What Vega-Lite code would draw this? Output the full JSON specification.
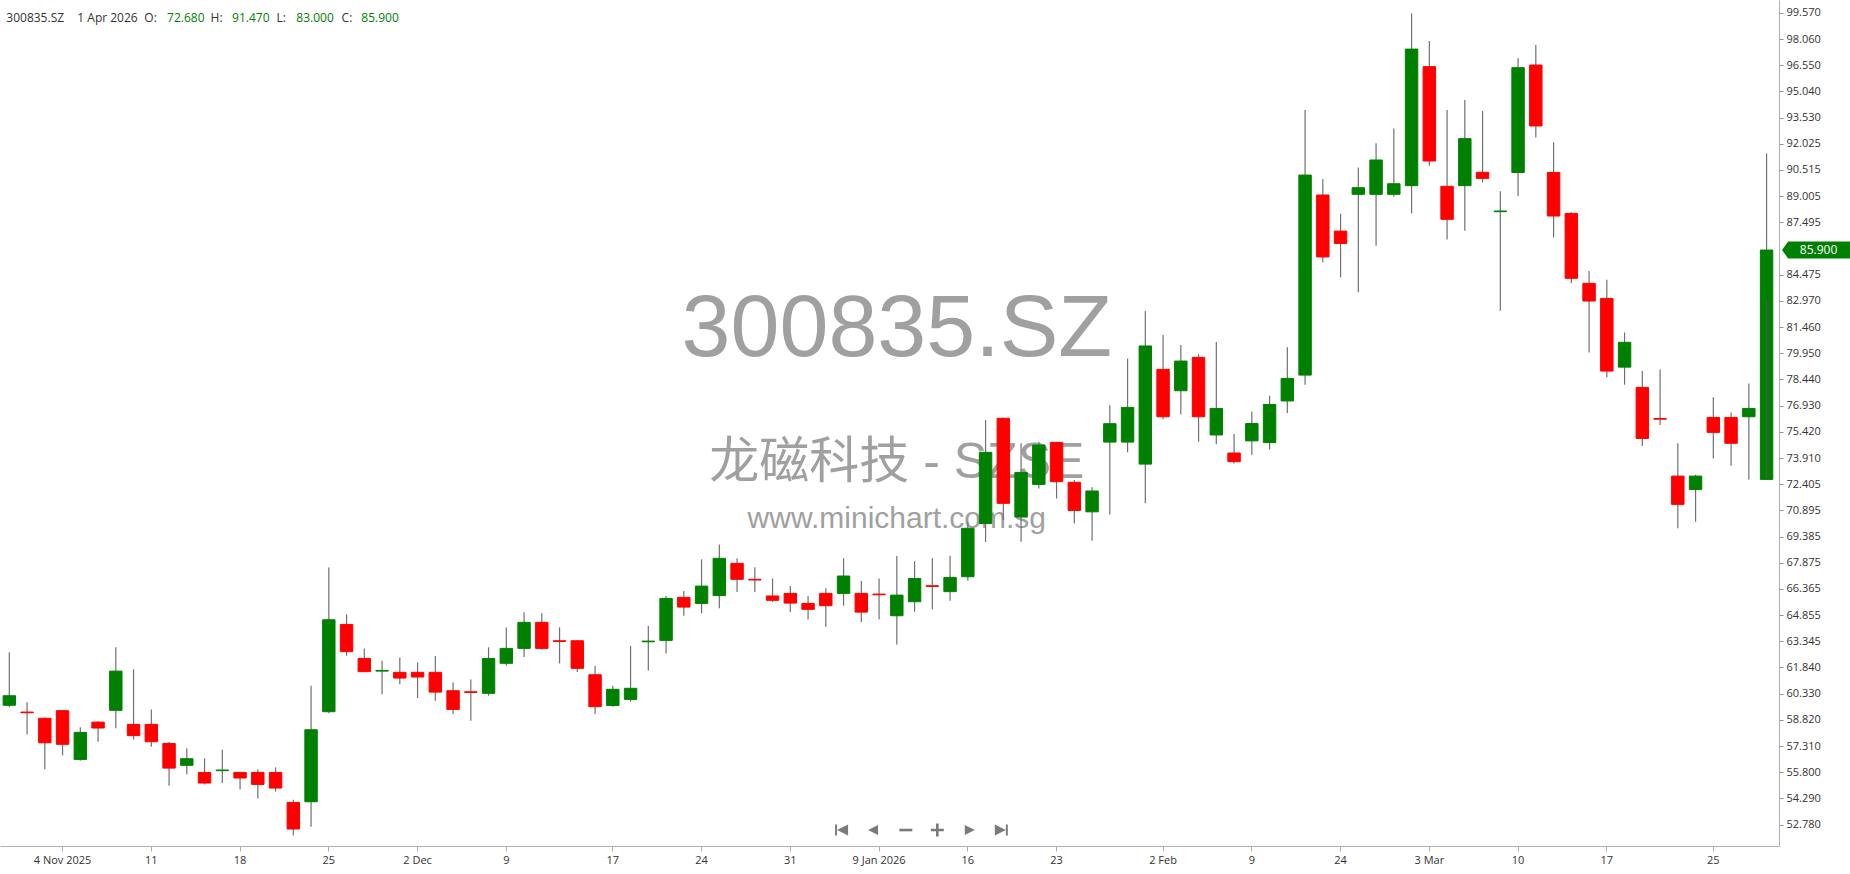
{
  "$schema": "https://vega.github.io/schema/vega-lite/v6.json",
  "width": 1779,
  "height": 846,
  "autosize": {"type": "none"},
  "padding": {"left": 0, "top": 0, "right": 71, "bottom": 28},
  "background": "white",
  "config": {"view": {"stroke": null}, "font": "Open Sans", "axis": {"labelOverlap": false, "labelSeparation": 0}},
  "data": {"name": "candles"},
  "datasets": {
    "candles": [
      {"d":"2025-10-30","o":59.66,"h":62.71,"l":59.55,"c":60.21},
      {"d":"2025-10-31","o":59.27,"h":59.83,"l":57.98,"c":59.23},
      {"d":"2025-11-03","o":58.91,"h":58.95,"l":55.97,"c":57.50},
      {"d":"2025-11-04","o":59.35,"h":59.38,"l":56.77,"c":57.41},
      {"d":"2025-11-05","o":56.54,"h":58.39,"l":56.47,"c":58.10},
      {"d":"2025-11-06","o":58.69,"h":58.75,"l":57.56,"c":58.35},
      {"d":"2025-11-07","o":59.37,"h":63.00,"l":58.33,"c":61.63},
      {"d":"2025-11-10","o":58.56,"h":61.73,"l":57.69,"c":57.91},
      {"d":"2025-11-11","o":58.56,"h":59.42,"l":57.27,"c":57.56},
      {"d":"2025-11-12","o":57.46,"h":57.54,"l":55.02,"c":56.04},
      {"d":"2025-11-13","o":56.20,"h":57.18,"l":55.68,"c":56.58},
      {"d":"2025-11-14","o":55.79,"h":56.60,"l":55.10,"c":55.18},
      {"d":"2025-11-17","o":55.89,"h":57.10,"l":55.18,"c":55.93},
      {"d":"2025-11-18","o":55.79,"h":55.80,"l":54.81,"c":55.47},
      {"d":"2025-11-19","o":55.79,"h":55.97,"l":54.29,"c":55.10},
      {"d":"2025-11-20","o":55.79,"h":56.08,"l":54.68,"c":54.89},
      {"d":"2025-11-21","o":54.06,"h":54.22,"l":52.16,"c":52.53},
      {"d":"2025-11-24","o":54.10,"h":60.79,"l":52.66,"c":58.25},
      {"d":"2025-11-25","o":59.29,"h":67.60,"l":59.20,"c":64.59},
      {"d":"2025-11-26","o":64.32,"h":64.90,"l":62.52,"c":62.75},
      {"d":"2025-11-27","o":62.36,"h":62.94,"l":61.58,"c":61.60},
      {"d":"2025-11-28","o":61.63,"h":62.23,"l":60.29,"c":61.67},
      {"d":"2025-12-01","o":61.56,"h":62.42,"l":60.87,"c":61.23},
      {"d":"2025-12-02","o":61.56,"h":62.13,"l":60.08,"c":61.29},
      {"d":"2025-12-03","o":61.56,"h":62.50,"l":59.92,"c":60.42},
      {"d":"2025-12-04","o":60.50,"h":60.98,"l":59.14,"c":59.42},
      {"d":"2025-12-05","o":60.44,"h":61.15,"l":58.77,"c":60.40},
      {"d":"2025-12-08","o":60.35,"h":63.00,"l":60.21,"c":62.36},
      {"d":"2025-12-09","o":62.08,"h":64.15,"l":61.94,"c":62.94},
      {"d":"2025-12-10","o":62.94,"h":65.02,"l":62.44,"c":64.44},
      {"d":"2025-12-11","o":64.44,"h":64.96,"l":62.88,"c":62.94},
      {"d":"2025-12-12","o":63.38,"h":64.15,"l":62.08,"c":63.34},
      {"d":"2025-12-15","o":63.38,"h":63.40,"l":61.58,"c":61.79},
      {"d":"2025-12-16","o":61.42,"h":61.92,"l":59.14,"c":59.58},
      {"d":"2025-12-17","o":59.65,"h":60.79,"l":59.58,"c":60.58},
      {"d":"2025-12-18","o":60.00,"h":63.07,"l":59.87,"c":60.64},
      {"d":"2025-12-19","o":63.32,"h":64.23,"l":61.67,"c":63.36},
      {"d":"2025-12-22","o":63.40,"h":65.96,"l":62.65,"c":65.82},
      {"d":"2025-12-23","o":65.88,"h":66.24,"l":64.82,"c":65.32},
      {"d":"2025-12-24","o":65.53,"h":68.07,"l":64.96,"c":66.53},
      {"d":"2025-12-25","o":65.98,"h":68.93,"l":65.25,"c":68.13},
      {"d":"2025-12-26","o":67.84,"h":68.13,"l":66.19,"c":66.92},
      {"d":"2025-12-29","o":66.92,"h":67.61,"l":66.19,"c":66.88},
      {"d":"2025-12-30","o":65.96,"h":66.97,"l":65.61,"c":65.71},
      {"d":"2025-12-31","o":66.11,"h":66.53,"l":65.03,"c":65.55},
      {"d":"2026-01-05","o":65.53,"h":65.96,"l":64.61,"c":65.19},
      {"d":"2026-01-06","o":66.11,"h":66.40,"l":64.17,"c":65.40},
      {"d":"2026-01-07","o":66.11,"h":68.13,"l":65.40,"c":67.11},
      {"d":"2026-01-08","o":66.11,"h":66.82,"l":64.46,"c":65.03},
      {"d":"2026-01-09","o":66.07,"h":66.97,"l":64.61,"c":66.03},
      {"d":"2026-01-12","o":64.82,"h":68.26,"l":63.17,"c":66.01},
      {"d":"2026-01-13","o":65.63,"h":67.97,"l":65.05,"c":66.97},
      {"d":"2026-01-14","o":66.55,"h":68.13,"l":65.19,"c":66.51},
      {"d":"2026-01-15","o":66.21,"h":68.28,"l":65.69,"c":67.03},
      {"d":"2026-01-16","o":67.07,"h":70.24,"l":66.84,"c":69.86},
      {"d":"2026-01-19","o":70.14,"h":76.10,"l":69.07,"c":74.24},
      {"d":"2026-01-20","o":76.20,"h":76.25,"l":70.34,"c":71.30},
      {"d":"2026-01-21","o":70.51,"h":74.76,"l":69.09,"c":73.08},
      {"d":"2026-01-22","o":72.39,"h":74.85,"l":72.16,"c":74.66},
      {"d":"2026-01-23","o":74.81,"h":74.85,"l":71.58,"c":72.55},
      {"d":"2026-01-26","o":72.51,"h":72.64,"l":70.14,"c":70.89},
      {"d":"2026-01-27","o":70.81,"h":72.22,"l":69.14,"c":72.01},
      {"d":"2026-01-28","o":74.83,"h":76.96,"l":70.66,"c":75.89},
      {"d":"2026-01-29","o":74.83,"h":79.64,"l":74.24,"c":76.83},
      {"d":"2026-01-30","o":73.56,"h":82.38,"l":71.30,"c":80.37},
      {"d":"2026-02-02","o":79.02,"h":81.00,"l":76.14,"c":76.29},
      {"d":"2026-02-03","o":77.79,"h":80.42,"l":76.43,"c":79.50},
      {"d":"2026-02-04","o":79.71,"h":79.90,"l":74.85,"c":76.29},
      {"d":"2026-02-05","o":75.24,"h":80.60,"l":74.70,"c":76.77},
      {"d":"2026-02-06","o":74.20,"h":75.30,"l":73.60,"c":73.70},
      {"d":"2026-02-09","o":74.90,"h":76.60,"l":74.10,"c":75.90},
      {"d":"2026-02-10","o":74.80,"h":77.50,"l":74.40,"c":77.00},
      {"d":"2026-02-11","o":77.20,"h":80.30,"l":76.50,"c":78.50},
      {"d":"2026-02-12","o":78.69,"h":93.97,"l":78.13,"c":90.22},
      {"d":"2026-02-13","o":89.07,"h":89.99,"l":85.19,"c":85.50},
      {"d":"2026-02-24","o":86.99,"h":87.99,"l":84.32,"c":86.28},
      {"d":"2026-02-25","o":89.11,"h":90.66,"l":83.46,"c":89.49},
      {"d":"2026-02-26","o":89.11,"h":92.05,"l":86.15,"c":91.09},
      {"d":"2026-02-27","o":89.11,"h":92.91,"l":88.97,"c":89.72},
      {"d":"2026-03-02","o":89.61,"h":99.54,"l":88.01,"c":97.48},
      {"d":"2026-03-03","o":96.47,"h":97.94,"l":90.76,"c":91.03},
      {"d":"2026-03-04","o":89.57,"h":93.97,"l":86.51,"c":87.67},
      {"d":"2026-03-05","o":89.61,"h":94.54,"l":87.01,"c":92.32},
      {"d":"2026-03-06","o":90.38,"h":93.91,"l":89.80,"c":90.03},
      {"d":"2026-03-09","o":88.11,"h":89.28,"l":82.40,"c":88.15},
      {"d":"2026-03-10","o":90.37,"h":96.95,"l":89.01,"c":96.41},
      {"d":"2026-03-11","o":96.56,"h":97.71,"l":92.39,"c":93.05},
      {"d":"2026-03-12","o":90.37,"h":92.10,"l":86.63,"c":87.86},
      {"d":"2026-03-13","o":88.01,"h":88.07,"l":83.98,"c":84.27},
      {"d":"2026-03-16","o":83.98,"h":84.69,"l":80.00,"c":82.96},
      {"d":"2026-03-17","o":83.11,"h":84.19,"l":78.56,"c":78.92},
      {"d":"2026-03-18","o":79.15,"h":81.15,"l":78.14,"c":80.58},
      {"d":"2026-03-19","o":77.98,"h":78.92,"l":74.60,"c":75.04},
      {"d":"2026-03-20","o":76.19,"h":79.02,"l":75.81,"c":76.15},
      {"d":"2026-03-23","o":72.87,"h":74.76,"l":69.86,"c":71.24},
      {"d":"2026-03-24","o":72.10,"h":72.95,"l":70.24,"c":72.87},
      {"d":"2026-03-25","o":76.25,"h":77.41,"l":73.89,"c":75.39},
      {"d":"2026-03-26","o":76.25,"h":76.54,"l":73.47,"c":74.76},
      {"d":"2026-03-27","o":76.29,"h":78.21,"l":72.68,"c":76.77},
      {"d":"2026-04-01","o":72.68,"h":91.47,"l":83.00,"c":85.90}
    ]
  },
  "encoding": {
    "x": {
      "field": "d",
      "type": "ordinal",
      "title": null,
      "scale": {
        "type": "band",
        "domain": ["2025-10-30","2025-10-31","2025-11-03","2025-11-04","2025-11-05","2025-11-06","2025-11-07","2025-11-10","2025-11-11","2025-11-12","2025-11-13","2025-11-14","2025-11-17","2025-11-18","2025-11-19","2025-11-20","2025-11-21","2025-11-24","2025-11-25","2025-11-26","2025-11-27","2025-11-28","2025-12-01","2025-12-02","2025-12-03","2025-12-04","2025-12-05","2025-12-08","2025-12-09","2025-12-10","2025-12-11","2025-12-12","2025-12-15","2025-12-16","2025-12-17","2025-12-18","2025-12-19","2025-12-22","2025-12-23","2025-12-24","2025-12-25","2025-12-26","2025-12-29","2025-12-30","2025-12-31","2026-01-05","2026-01-06","2026-01-07","2026-01-08","2026-01-09","2026-01-12","2026-01-13","2026-01-14","2026-01-15","2026-01-16","2026-01-19","2026-01-20","2026-01-21","2026-01-22","2026-01-23","2026-01-26","2026-01-27","2026-01-28","2026-01-29","2026-01-30","2026-02-02","2026-02-03","2026-02-04","2026-02-05","2026-02-06","2026-02-09","2026-02-10","2026-02-11","2026-02-12","2026-02-13","2026-02-24","2026-02-25","2026-02-26","2026-02-27","2026-03-02","2026-03-03","2026-03-04","2026-03-05","2026-03-06","2026-03-09","2026-03-10","2026-03-11","2026-03-12","2026-03-13","2026-03-16","2026-03-17","2026-03-18","2026-03-19","2026-03-20","2026-03-23","2026-03-24","2026-03-25","2026-03-26","2026-03-27","2026-04-01"],
        "paddingInner": 0.3,
        "paddingOuter": 0.2625,
        "align": 0.333,
        "round": false
      },
      "axis": {
        "orient": "bottom",
        "title": null,
        "grid": false,
        "bandPosition": 0.5,
        "values": ["2025-11-04","2025-11-11","2025-11-18","2025-11-25","2025-12-02","2025-12-09","2025-12-17","2025-12-24","2025-12-31","2026-01-09","2026-01-16","2026-01-23","2026-02-02","2026-02-09","2026-02-24","2026-03-03","2026-03-10","2026-03-17","2026-03-25"],
        "labelExpr": "datum.value == '2025-11-04' ? '4 Nov 2025' : datum.value == '2025-12-02' ? '2 Dec' : datum.value == '2026-01-09' ? '9 Jan 2026' : datum.value == '2026-02-02' ? '2 Feb' : datum.value == '2026-03-03' ? '3 Mar' : '' + toNumber(substring(datum.value, 8, 10))",
        "labelAngle": 0,
        "labelFont": "Open Sans",
        "labelFontSize": 11,
        "labelColor": "#333333",
        "labelPadding": 3,
        "tickSize": 5,
        "tickColor": "#b0b0b0",
        "domainColor": "#b0b0b0",
        "labelFlush": false,
        "labelOverlap": false
      }
    }
  },
  "layer": [
    {
      "data": {"values": [{"t": "300835.SZ"}]},
      "mark": {"type": "text", "font": "Liberation Sans", "fontSize": 88, "color": "#a0a0a0", "align": "center", "baseline": "middle"},
      "encoding": {
        "x": {"datum": "2026-01-12", "type": "ordinal"},
        "y": {"datum": 81.29, "type": "quantitative"},
        "text": {"field": "t"}
      }
    },
    {
      "data": {"values": [{"t": "龙磁科技 - SZSE"}]},
      "mark": {"type": "text", "font": "Liberation Sans, Noto Sans CJK SC", "fontSize": 50, "color": "#a0a0a0", "align": "center", "baseline": "middle"},
      "encoding": {
        "x": {"datum": "2026-01-12", "type": "ordinal"},
        "y": {"datum": 73.62, "type": "quantitative"},
        "text": {"field": "t"}
      }
    },
    {
      "data": {"values": [{"t": "www.minichart.com.sg"}]},
      "mark": {"type": "text", "font": "Liberation Sans", "fontSize": 30, "color": "#a0a0a0", "align": "center", "baseline": "middle"},
      "encoding": {
        "x": {"datum": "2026-01-12", "type": "ordinal"},
        "y": {"datum": 70.39, "type": "quantitative"},
        "text": {"field": "t"}
      }
    },
    {
      "mark": {"type": "rule", "color": "#707070", "strokeWidth": 1.2},
      "encoding": {
        "y": {
          "field": "h",
          "type": "quantitative",
          "title": null,
          "scale": {"domain": [51.55, 100.31], "nice": false, "zero": false},
          "axis": {
            "orient": "right",
            "title": null,
            "grid": false,
            "tickCount": 100,
            "values": [52.78,54.29,55.8,57.31,58.82,60.33,61.84,63.345,64.855,66.365,67.875,69.385,70.895,72.405,73.91,75.42,76.93,78.44,79.95,81.46,82.97,84.475,87.495,89.005,90.515,92.025,93.53,95.04,96.55,98.06,99.57],
            "format": ".3f",
            "labelFont": "Open Sans",
            "labelFontSize": 11,
            "labelColor": "#333333",
            "labelPadding": 3,
            "tickSize": 4,
            "tickColor": "#909090",
            "domainColor": "#b0b0b0",
            "labelFlush": false,
            "labelOverlap": false,
            "labelSeparation": 0
          }
        },
        "y2": {"field": "l"}
      }
    },
    {
      "mark": {"type": "bar", "strokeWidth": 1},
      "encoding": {
        "y": {"field": "o", "type": "quantitative", "title": null},
        "y2": {"field": "c"},
        "color": {"condition": {"test": "datum.c >= datum.o", "value": "#008000"}, "value": "#ff0000"},
        "stroke": {"condition": {"test": "datum.c >= datum.o", "value": "#008000"}, "value": "#ff0000"}
      }
    },
    {
      "transform": [{"filter": "datum.l > min(datum.o, datum.c)"}],
      "mark": {"type": "rule", "color": "#555555", "strokeWidth": 1.2},
      "encoding": {
        "y": {"field": "l", "type": "quantitative", "title": null},
        "y2": {"field": "o"}
      }
    },
    {
      "data": {"values": [{"t": "300835.SZ"}]},
      "mark": {"type": "text", "fontSize": 12, "color": "#333333", "align": "left", "baseline": "middle", "dx": -3},
      "encoding": {"x": {"datum": "2025-10-30", "type": "ordinal"}, "y": {"datum": 99.27, "type": "quantitative"}, "text": {"field": "t"}}
    },
    {
      "data": {"values": [{"t": "1 Apr 2026"}]},
      "mark": {"type": "text", "fontSize": 12, "color": "#333333", "align": "left", "baseline": "middle", "dx": -3},
      "encoding": {"x": {"datum": "2025-11-05", "type": "ordinal"}, "y": {"datum": 99.27, "type": "quantitative"}, "text": {"field": "t"}}
    },
    {
      "data": {"values": [{"t": "O:"}]},
      "mark": {"type": "text", "fontSize": 12, "color": "#333333", "align": "left", "baseline": "middle", "dx": -7},
      "encoding": {"x": {"datum": "2025-11-11", "type": "ordinal"}, "y": {"datum": 99.27, "type": "quantitative"}, "text": {"field": "t"}}
    },
    {
      "data": {"values": [{"t": "72.680"}]},
      "mark": {"type": "text", "fontSize": 12, "color": "#008000", "align": "left", "baseline": "middle", "dx": -2},
      "encoding": {"x": {"datum": "2025-11-12", "type": "ordinal"}, "y": {"datum": 99.27, "type": "quantitative"}, "text": {"field": "t"}}
    },
    {
      "data": {"values": [{"t": "H:"}]},
      "mark": {"type": "text", "fontSize": 12, "color": "#333333", "align": "left", "baseline": "middle", "dx": 6},
      "encoding": {"x": {"datum": "2025-11-14", "type": "ordinal"}, "y": {"datum": 99.27, "type": "quantitative"}, "text": {"field": "t"}}
    },
    {
      "data": {"values": [{"t": "91.470"}]},
      "mark": {"type": "text", "fontSize": 12, "color": "#008000", "align": "left", "baseline": "middle", "dx": -8},
      "encoding": {"x": {"datum": "2025-11-18", "type": "ordinal"}, "y": {"datum": 99.27, "type": "quantitative"}, "text": {"field": "t"}}
    },
    {
      "data": {"values": [{"t": "L:"}]},
      "mark": {"type": "text", "fontSize": 12, "color": "#333333", "align": "left", "baseline": "middle", "dx": 1},
      "encoding": {"x": {"datum": "2025-11-20", "type": "ordinal"}, "y": {"datum": 99.27, "type": "quantitative"}, "text": {"field": "t"}}
    },
    {
      "data": {"values": [{"t": "83.000"}]},
      "mark": {"type": "text", "fontSize": 12, "color": "#008000", "align": "left", "baseline": "middle", "dx": 3},
      "encoding": {"x": {"datum": "2025-11-21", "type": "ordinal"}, "y": {"datum": 99.27, "type": "quantitative"}, "text": {"field": "t"}}
    },
    {
      "data": {"values": [{"t": "C:"}]},
      "mark": {"type": "text", "fontSize": 12, "color": "#333333", "align": "left", "baseline": "middle", "dx": -5},
      "encoding": {"x": {"datum": "2025-11-26", "type": "ordinal"}, "y": {"datum": 99.27, "type": "quantitative"}, "text": {"field": "t"}}
    },
    {
      "data": {"values": [{"t": "85.900"}]},
      "mark": {"type": "text", "fontSize": 12, "color": "#008000", "align": "left", "baseline": "middle", "dx": -3},
      "encoding": {"x": {"datum": "2025-11-27", "type": "ordinal"}, "y": {"datum": 99.27, "type": "quantitative"}, "text": {"field": "t"}}
    },
    {
      "data": {"values": [{"t": "85.900"}]},
      "mark": {"type": "point", "shape": "M-1,0L-0.826,-0.246L1,-0.246L1,0.246L-0.826,0.246Z", "size": 4761, "filled": true, "color": "#008000", "opacity": 1, "strokeWidth": 0, "xOffset": 50, "clip": false},
      "encoding": {"x": {"datum": "2026-04-01", "type": "ordinal"}, "y": {"datum": 85.9, "type": "quantitative"}}
    },
    {
      "data": {"values": [{"t": "85.900"}]},
      "mark": {"type": "text", "fontSize": 12, "color": "#ffffff", "align": "center", "baseline": "middle", "dx": 52},
      "encoding": {"x": {"datum": "2026-04-01", "type": "ordinal"}, "y": {"datum": 85.9, "type": "quantitative"}, "text": {"field": "t"}}
    },
    {
      "data": {"values": [{"btn": "first"}]},
      "mark": {"type": "point", "shape": "M-1,-0.85L-0.7,-0.85L-0.7,0.85L-1,0.85Z M-0.7,0L1,-0.85L1,0.85Z", "size": 169, "filled": true, "color": "#7a7a7a", "opacity": 1, "strokeWidth": 0, "xOffset": -2},
      "encoding": {"x": {"datum": "2026-01-07", "type": "ordinal"}, "y": {"datum": 52.47, "type": "quantitative"}}
    },
    {
      "data": {"values": [{"btn": "prev"}]},
      "mark": {"type": "point", "shape": "M-0.77,0L0.77,-0.77L0.77,0.77Z", "size": 169, "filled": true, "color": "#7a7a7a", "opacity": 1, "strokeWidth": 0, "xOffset": -6},
      "encoding": {"x": {"datum": "2026-01-09", "type": "ordinal"}, "y": {"datum": 52.47, "type": "quantitative"}}
    },
    {
      "data": {"values": [{"btn": "zoom out"}]},
      "mark": {"type": "point", "shape": "M-1,-0.2L1,-0.2L1,0.2L-1,0.2Z", "size": 169, "filled": true, "color": "#7a7a7a", "opacity": 1, "strokeWidth": 0, "xOffset": 9},
      "encoding": {"x": {"datum": "2026-01-12", "type": "ordinal"}, "y": {"datum": 52.47, "type": "quantitative"}}
    },
    {
      "data": {"values": [{"btn": "zoom in"}]},
      "mark": {"type": "point", "shape": "M-1,-0.2L-0.2,-0.2L-0.2,-1L0.2,-1L0.2,-0.2L1,-0.2L1,0.2L0.2,0.2L0.2,1L-0.2,1L-0.2,0.2L-1,0.2Z", "size": 169, "filled": true, "color": "#7a7a7a", "opacity": 1, "strokeWidth": 0, "xOffset": 5},
      "encoding": {"x": {"datum": "2026-01-14", "type": "ordinal"}, "y": {"datum": 52.47, "type": "quantitative"}}
    },
    {
      "data": {"values": [{"btn": "next"}]},
      "mark": {"type": "point", "shape": "M0.77,0L-0.77,-0.77L-0.77,0.77Z", "size": 169, "filled": true, "color": "#7a7a7a", "opacity": 1, "strokeWidth": 0, "xOffset": 2},
      "encoding": {"x": {"datum": "2026-01-16", "type": "ordinal"}, "y": {"datum": 52.47, "type": "quantitative"}}
    },
    {
      "data": {"values": [{"btn": "last"}]},
      "mark": {"type": "point", "shape": "M1,-0.85L0.7,-0.85L0.7,0.85L1,0.85Z M0.7,0L-1,-0.85L-1,0.85Z", "size": 169, "filled": true, "color": "#7a7a7a", "opacity": 1, "strokeWidth": 0, "xOffset": -2},
      "encoding": {"x": {"datum": "2026-01-20", "type": "ordinal"}, "y": {"datum": 52.47, "type": "quantitative"}}
    }
  ]
}
